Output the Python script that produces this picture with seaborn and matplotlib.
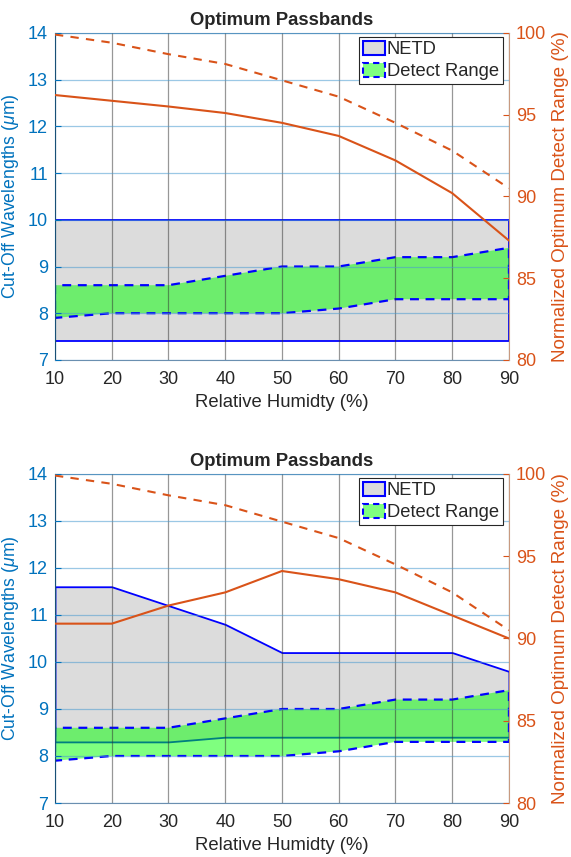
import numpy as np
import pandas as pd
import seaborn as sns
import matplotlib.pyplot as plt
from matplotlib.patches import Patch

sns.set_style("white")
plt.rcParams['font.family'] = ['Liberation Sans', 'DejaVu Sans']
plt.rcParams['mathtext.fontset'] = 'custom'
plt.rcParams['mathtext.it'] = 'Liberation Sans:italic'
plt.rcParams['mathtext.rm'] = 'Liberation Sans'

humidity = [10, 20, 30, 40, 50, 60, 70, 80, 90]

# panel 1
netd_hi_1 = [10.0, 10.0, 10.0, 10.0, 10.0, 10.0, 10.0, 10.0, 10.0]
netd_lo_1 = [7.4, 7.4, 7.4, 7.4, 7.4, 7.4, 7.4, 7.4, 7.4]
range_solid_1 = [96.2, 95.85, 95.5, 95.1, 94.5, 93.7, 92.2, 90.2, 87.3]

# panel 2
netd_hi_2 = [11.6, 11.6, 11.2, 10.8, 10.2, 10.2, 10.2, 10.2, 9.8]
netd_lo_2 = [8.3, 8.3, 8.3, 8.4, 8.4, 8.4, 8.4, 8.4, 8.4]
range_solid_2 = [90.9, 90.9, 92.0, 92.8, 94.1, 93.6, 92.8, 91.4, 90.0]

# shared
detect_hi = [8.6, 8.6, 8.6, 8.8, 9.0, 9.0, 9.2, 9.2, 9.4]
detect_lo = [7.9, 8.0, 8.0, 8.0, 8.0, 8.1, 8.3, 8.3, 8.3]
range_dashed = [99.9, 99.4, 98.7, 98.1, 97.1, 96.1, 94.5, 92.8, 90.5]

BLUE_AX = '#0072BD'
ORANGE = '#D95319'
GREEN = (0.0, 1.0, 0.0, 0.5)
GREY = '#DCDCDC'


def draw_panel(ax, netd_hi, netd_lo, solid):
    ax.fill_between(humidity, netd_lo, netd_hi, facecolor=GREY,
                    edgecolor='blue', linewidth=1.3, zorder=1)
    ax.fill_between(humidity, detect_lo, detect_hi, facecolor=GREEN,
                    edgecolor='blue', linewidth=1.6, linestyle=(0, (4, 3)), zorder=1.2)

    ax.set_xlim(10, 90)
    ax.set_ylim(7, 14)
    ax.set_xticks(humidity)
    ax.set_yticks(range(7, 15))
    ax.set_axisbelow(False)
    ax.yaxis.grid(True, color='#4a9bd0', alpha=0.55, linewidth=0.9)
    ax.xaxis.grid(True, color='#303030', alpha=0.5, linewidth=0.9)
    ax.tick_params(axis='y', colors=BLUE_AX, labelsize=13, direction='in', length=4, pad=5)
    ax.tick_params(axis='x', colors='#262626', labelsize=13, direction='in', length=4, pad=8)
    ax.set_xlabel('Relative Humidty (%)', fontsize=13.3, color='#262626', labelpad=4)
    ax.set_ylabel(r'Cut-Off Wavelengths ($\mu$m)', fontsize=12.7, color=BLUE_AX, labelpad=5)
    ax.set_title('Optimum Passbands', fontsize=13.3, fontweight='bold', pad=6)
    for s in ['top', 'bottom']:
        ax.spines[s].set_color('#6a8fb0')
    ax.spines['left'].set_color(BLUE_AX)
    ax.spines['right'].set_visible(False)

    ax2 = ax.twinx()
    df = pd.DataFrame({'h': humidity, 'solid': solid, 'dashed': range_dashed})
    sns.lineplot(data=df, x='h', y='solid', ax=ax2, color=ORANGE, linewidth=1.5)
    sns.lineplot(data=df, x='h', y='dashed', ax=ax2, color=ORANGE, linewidth=1.5,
                 linestyle=(0, (4, 3.5)))
    ax2.set_ylim(80, 100)
    ax2.set_xlim(10, 90)
    ax2.set_yticks([80, 85, 90, 95, 100])
    ax2.tick_params(axis='y', colors=ORANGE, labelsize=13, direction='in', length=4, pad=5)
    ax2.set_ylabel('Normalized Optimum Detect Range (%)', fontsize=13.6, color=ORANGE, labelpad=4)
    ax2.set_xlabel('')
    for s in ['top', 'bottom', 'left']:
        ax2.spines[s].set_visible(False)
    ax2.spines['right'].set_color('#c89a80')

    handles = [Patch(facecolor=GREY, edgecolor='blue', linewidth=1.5),
               Patch(facecolor=GREEN, edgecolor='blue', linewidth=1.5, linestyle=(0, (3, 2)))]
    leg = ax2.legend(handles, ['NETD', 'Detect Range'], loc='upper right',
                     bbox_to_anchor=(0.99, 0.993), fontsize=13.2, frameon=True,
                     fancybox=False, edgecolor='#262626', framealpha=1,
                     handlelength=1.2, handleheight=0.8, handletextpad=0.1,
                     borderpad=0.2, labelspacing=0.25, borderaxespad=0.1)
    leg.get_frame().set_linewidth(0.8)


fig = plt.figure(figsize=(5.71, 8.57), dpi=100)
ax_top = fig.add_axes([0.0963, 0.580, 0.795, 0.3816])
ax_bot = fig.add_axes([0.0963, 0.063, 0.795, 0.384])

draw_panel(ax_top, netd_hi_1, netd_lo_1, range_solid_1)
draw_panel(ax_bot, netd_hi_2, netd_lo_2, range_solid_2)

fig.savefig('out.png', dpi=100)
